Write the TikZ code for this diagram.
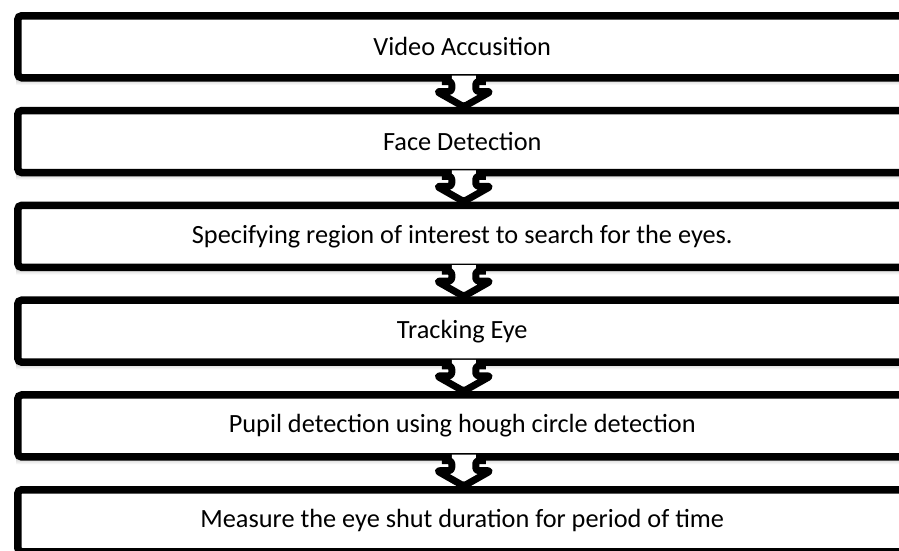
\documentclass[tikz,border=0pt]{standalone}
\usepackage{fontspec}
\setmainfont{Carlito}
\usetikzlibrary{calc}
\begin{document}
\begin{tikzpicture}[x=1pt,y=-1pt,
  box/.style={draw=black, line width=7.5pt, rounded corners=4pt, fill=white,
    minimum width=889pt, minimum height=62pt, inner sep=0pt, anchor=north west,
    font=\fontsize{26.3}{30}\selectfont},
  arrowline/.style={draw=black, line width=7pt, line join=round, rounded corners=3pt},
  shadowstrip/.style={top color=black!28, bottom color=white, draw=none}]
\useasboundingbox (0,0) rectangle (899,550);
\clip (0,0) rectangle (899,550);
% soft shadows under the boxes
\foreach \i in {0,...,5} {
  \shade[shadowstrip] (16,{12+94.8*\i+64}) rectangle (910,{12+94.8*\i+73});
}
% boxes
\foreach [count=\i] \t in {Video Accusition, Face Detection,
    Specifying region of interest to search for the eyes., Tracking Eye,
    Pupil detection using hough circle detection,
    Measure the eye shut duration for period of time} {
  \node[box] (b\i) at (14,{12+94.8*(\i-1)}) {\t};
}
% block arrows between the boxes
\foreach \i [evaluate=\i as \j using int(\i+1)] in {1,...,5} {
  \coordinate (s\i) at ($(b\i.south)+(1.5,0)$);
  \coordinate (t\i) at ($(b\j.north)+(1.5,0)$);
  \fill[white] ($(s\i)+(-12,-6)$) -- ($(s\i)+(-12,10)$) -- ($(s\i)+(-27,10)$)
    -- (t\i) -- ($(s\i)+(27,10)$) -- ($(s\i)+(12,10)$) -- ($(s\i)+(12,-6)$) -- cycle;
  \draw[arrowline] ($(s\i)+(-22,0)$) -- ($(s\i)+(-12,0)$) -- ($(s\i)+(-12,10)$)
    -- ($(s\i)+(-27,10)$) -- (t\i) -- ($(s\i)+(27,10)$) -- ($(s\i)+(12,10)$)
    -- ($(s\i)+(12,0)$) -- ($(s\i)+(22,0)$);
}
\end{tikzpicture}
\end{document}
